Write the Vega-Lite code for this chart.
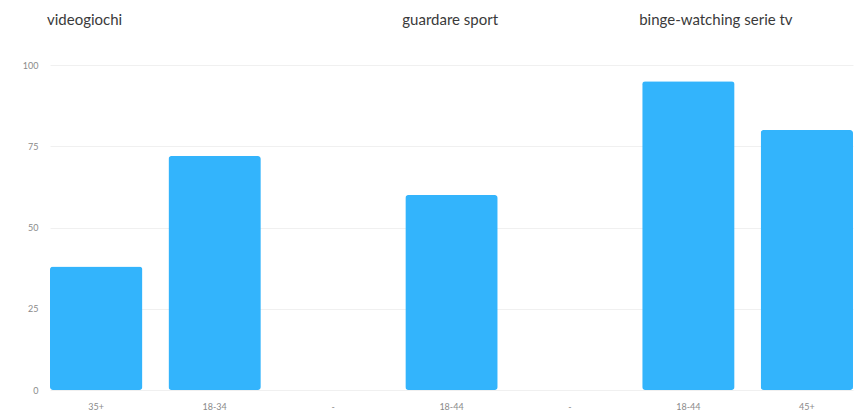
{
  "$schema": "https://vega.github.io/schema/vega-lite/v6.json",
  "width": 803,
  "height": 325,
  "autosize": {"type": "none"},
  "padding": {"left": 50, "top": 65, "right": 4, "bottom": 28},
  "background": "white",
  "config": {"view": {"stroke": null}, "font": "Lato"},
  "data": {
    "values": [
      {"pos": "35+", "value": 38, "title": "videogiochi"},
      {"pos": "18-34", "value": 72, "title": ""},
      {"pos": "-", "value": 0, "title": ""},
      {"pos": "18-44", "value": 60, "title": "guardare sport"},
      {"pos": "-#2", "value": 0, "title": ""},
      {"pos": "18-44#2", "value": 95, "title": "binge-watching serie tv"},
      {"pos": "45+", "value": 80, "title": ""}
    ]
  },
  "encoding": {
    "x": {
      "field": "pos",
      "type": "nominal",
      "sort": null,
      "scale": {"paddingInner": 0.22, "paddingOuter": 0},
      "axis": {
        "title": null,
        "labelAngle": 0,
        "domain": false,
        "ticks": false,
        "labelPadding": 12,
        "labelFontSize": 9,
        "labelColor": "#8a8a8a",
        "labelExpr": "split(datum.label, '#')[0]"
      }
    }
  },
  "layer": [
    {
      "mark": {"type": "bar", "color": "#33b4fc", "cornerRadius": 3},
      "encoding": {
        "y": {
          "field": "value",
          "type": "quantitative",
          "scale": {"domain": [0, 100], "nice": false},
          "axis": {
            "title": null,
            "values": [0, 25, 50, 75, 100],
            "domain": false,
            "ticks": false,
            "labelPadding": 12,
            "labelFontSize": 9,
            "labelColor": "#8a8a8a",
            "gridColor": "#f0f0f0",
            "gridWidth": 1
          }
        }
      }
    },
    {
      "mark": {"type": "text", "align": "left", "baseline": "middle", "fontSize": 15, "color": "#3a3a3a", "dx": -3},
      "encoding": {
        "x": {"field": "pos", "type": "nominal", "sort": null, "bandPosition": 0},
        "y": {"datum": 114, "type": "quantitative"},
        "text": {"field": "title"}
      }
    }
  ]
}
